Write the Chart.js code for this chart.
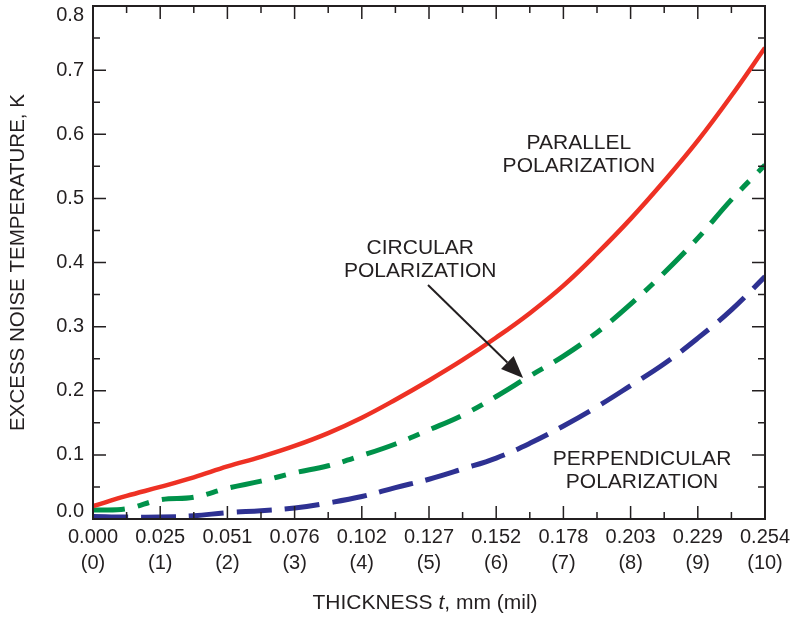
<!DOCTYPE html>
<html>
<head>
<meta charset="utf-8">
<script src="https://cdn.jsdelivr.net/npm/chart.js@4.4.1/dist/chart.umd.min.js"></script>
<style>
  html, body { margin: 0; padding: 0; background: #fff; }
  #wrap { width: 796px; height: 619px; }
</style>
</head>
<body>
<div id="wrap"><canvas id="chart" width="796" height="619"></canvas></div>
<script>
// ── data ──
const thicknessMil = [0, 0.5, 1, 1.5, 2, 2.5, 3, 3.5, 4, 4.5, 5, 5.5, 6, 6.5, 7, 7.5, 8, 8.5, 9, 9.5, 10];
const parallelK      = [0.020, 0.036, 0.050, 0.065, 0.082, 0.097, 0.114, 0.134, 0.158, 0.186, 0.216, 0.248, 0.283, 0.321, 0.364, 0.414, 0.468, 0.527, 0.590, 0.660, 0.735];
const circularK      = [0.014, 0.016, 0.030, 0.034, 0.048, 0.059, 0.072, 0.083, 0.099, 0.117, 0.139, 0.162, 0.191, 0.223, 0.254, 0.291, 0.335, 0.384, 0.438, 0.498, 0.552];
const perpendicularK = [0.004, 0.003, 0.003, 0.005, 0.010, 0.013, 0.017, 0.025, 0.035, 0.049, 0.062, 0.078, 0.095, 0.118, 0.145, 0.175, 0.208, 0.242, 0.282, 0.326, 0.378];

const xTickMil = [0, 1, 2, 3, 4, 5, 6, 7, 8, 9, 10];
const xTickMm  = ['0.000', '0.025', '0.051', '0.076', '0.102', '0.127', '0.152', '0.178', '0.203', '0.229', '0.254'];
const yTickValues = [0, 0.1, 0.2, 0.3, 0.4, 0.5, 0.6, 0.7, 0.8];
const yTickLabels = ['0.0', '0.1', '0.2', '0.3', '0.4', '0.5', '0.6', '0.7', '0.8'];

// annotation text, in data coordinates (mil, K)
const notes = [
  { lines: ['PARALLEL', 'POLARIZATION'], x: 7.23, y: 0.586 },
  { lines: ['CIRCULAR', 'POLARIZATION'], x: 4.87, y: 0.422 },
  { lines: ['PERPENDICULAR', 'POLARIZATION'], x: 8.17, y: 0.093 }
];
const arrowFrom = { x: 4.985, y: 0.365 };
const arrowTo   = { x: 6.40,  y: 0.220 };

const INK = '#231f20';
const FONT = "'Liberation Sans', Arial, Helvetica, sans-serif";

const pts = ys => thicknessMil.map((x, i) => ({ x, y: ys[i] }));

// ── frame, inward ticks, labels, titles, arrow ──
const decor = {
  id: 'decor',
  afterDraw(chart) {
    const { ctx, chartArea: { left, right, top, bottom }, scales: { x, y } } = chart;
    ctx.save();
    ctx.strokeStyle = INK;
    ctx.fillStyle = INK;

    // ticks
    ctx.lineWidth = 1.5;
    ctx.beginPath();
    for (let m = 0.5; m < 10; m += 0.5) {
      const px = x.getPixelForValue(m);
      const len = Number.isInteger(m) ? 13 : 7;
      ctx.moveTo(px, bottom); ctx.lineTo(px, bottom - len);
      ctx.moveTo(px, top); ctx.lineTo(px, top + len);
    }
    for (let k = 1; k < 16; k++) {
      const py = y.getPixelForValue(k * 0.05);
      const len = k % 2 === 0 ? 13 : 7;
      ctx.moveTo(left, py); ctx.lineTo(left + len, py);
      ctx.moveTo(right, py); ctx.lineTo(right - len, py);
    }
    ctx.stroke();

    // frame
    ctx.lineWidth = 2;
    ctx.strokeRect(left, top, right - left, bottom - top);

    // y tick labels (end labels pulled inside)
    ctx.font = '20px ' + FONT;
    ctx.textAlign = 'right';
    ctx.textBaseline = 'middle';
    yTickValues.forEach((v, i) => {
      const py = Math.min(Math.max(y.getPixelForValue(v), top + 9), bottom - 8);
      ctx.fillText(yTickLabels[i], left - 9, py);
    });

    // y title
    ctx.save();
    ctx.translate(18, (top + bottom) / 2);
    ctx.rotate(-Math.PI / 2);
    ctx.textAlign = 'center';
    ctx.font = '20.5px ' + FONT;
    ctx.fillText('EXCESS NOISE TEMPERATURE, K', 0, 0);
    ctx.restore();

    // x title with italic t
    const parts = [['THICKNESS ', '21px '], ['t', 'italic 21px '], [', mm (mil)', '21px ']];
    let w = 0;
    parts.forEach(p => { ctx.font = p[1] + FONT; w += ctx.measureText(p[0]).width; });
    let cx = (left + right) / 2 - 4 - w / 2;
    ctx.textAlign = 'left';
    parts.forEach(p => {
      ctx.font = p[1] + FONT;
      ctx.fillText(p[0], cx, 603);
      cx += ctx.measureText(p[0]).width;
    });

    // curve notes
    ctx.font = '21px ' + FONT;
    ctx.textAlign = 'center';
    notes.forEach(n => {
      const px = x.getPixelForValue(n.x), py = y.getPixelForValue(n.y);
      n.lines.forEach((t, i) => ctx.fillText(t, px, py + i * 23));
    });

    // arrow
    const x0 = x.getPixelForValue(arrowFrom.x), y0 = y.getPixelForValue(arrowFrom.y);
    const x1 = x.getPixelForValue(arrowTo.x), y1 = y.getPixelForValue(arrowTo.y);
    const ang = Math.atan2(y1 - y0, x1 - x0);
    const hl = 22, hw = 9;
    const bx = x1 - hl * Math.cos(ang), by = y1 - hl * Math.sin(ang);
    ctx.lineWidth = 2;
    ctx.beginPath(); ctx.moveTo(x0, y0); ctx.lineTo(bx, by); ctx.stroke();
    ctx.beginPath();
    ctx.moveTo(x1, y1);
    ctx.lineTo(bx + hw * Math.sin(ang), by - hw * Math.cos(ang));
    ctx.lineTo(bx - hw * Math.sin(ang), by + hw * Math.cos(ang));
    ctx.closePath(); ctx.fill();

    ctx.restore();
  }
};

new Chart(document.getElementById('chart'), {
  type: 'line',
  data: {
    datasets: [
      { label: 'Parallel', data: pts(parallelK), borderColor: '#ee3124', borderWidth: 4.5 },
      { label: 'Circular', data: pts(circularK), borderColor: '#00924a', borderWidth: 5, borderDash: [32, 13, 12, 13] },
      { label: 'Perpendicular', data: pts(perpendicularK), borderColor: '#2e3192', borderWidth: 5, borderDash: [35, 13] }
    ]
  },
  options: {
    responsive: false, animation: false, devicePixelRatio: 1,
    layout: { padding: { left: 0, right: 31, top: 6, bottom: 0 } },
    elements: { point: { radius: 0 }, line: { tension: 0.4, borderCapStyle: 'butt' } },
    plugins: { legend: { display: false }, tooltip: { enabled: false } },
    scales: {
      x: {
        type: 'linear', min: 0, max: 10,
        grid: { display: false, drawTicks: false }, border: { display: false },
        afterBuildTicks: s => { s.ticks = xTickMil.map(v => ({ value: v })); },
        afterFit: s => { s.height = 100; },
        ticks: {
          autoSkip: false, maxRotation: 0, padding: 5, color: INK,
          font: { family: FONT, size: 20, lineHeight: 1.33 },
          callback: v => [xTickMm[xTickMil.indexOf(v)], '(' + v + ')']
        }
      },
      y: {
        min: 0, max: 0.8,
        grid: { display: false, drawTicks: false }, border: { display: false },
        ticks: { display: false, stepSize: 0.1 },
        afterFit: s => { s.width = 93; }
      }
    }
  },
  plugins: [decor]
});
</script>
</body>
</html>
